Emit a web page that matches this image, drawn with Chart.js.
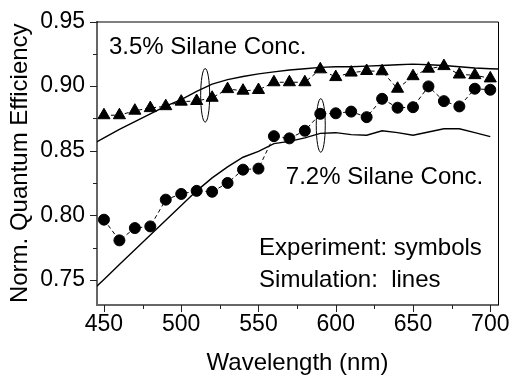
<!DOCTYPE html>
<html>
<head>
<meta charset="utf-8">
<script src="https://cdn.jsdelivr.net/npm/chart.js@4.4.1/dist/chart.umd.min.js"></script>
<style>
  html, body { margin: 0; padding: 0; background: #fff; }
</style>
</head>
<body>
<canvas id="chart" width="512" height="378"></canvas>
<script>
// measured points (every 10 nm)
const wavelengths = [450, 460, 470, 480, 490, 500, 510, 520, 530, 540, 550, 560, 570,
  580, 590, 600, 610, 620, 630, 640, 650, 660, 670, 680, 690, 700];
const silane35Exp = [0.8775, 0.8775, 0.881, 0.883, 0.8845, 0.888, 0.8885, 0.891, 0.8977, 0.8965,
  0.897, 0.903, 0.903, 0.903, 0.913, 0.907, 0.9105, 0.9117, 0.9115, 0.898, 0.9077, 0.9135,
  0.9155, 0.909, 0.9085, 0.906];
const silane72Exp = [0.7967, 0.7807, 0.7902, 0.7915, 0.8122, 0.8166, 0.819, 0.8183, 0.8251, 0.8354,
  0.8362, 0.8613, 0.8596, 0.8655, 0.8786, 0.879, 0.8803, 0.876, 0.8902, 0.8833, 0.8837, 0.8998,
  0.8884, 0.8843, 0.898, 0.8972];

// simulation curves
const sim35Wavelengths = [445, 450, 460, 470, 480, 490, 500, 510, 520, 530, 540, 550, 560, 570,
  580, 590, 600, 610, 620, 630, 640, 650, 660, 670, 680, 690, 700, 705];
const silane35Sim = [0.8567, 0.860, 0.8665, 0.8725, 0.8785, 0.8845, 0.8895, 0.896, 0.9015, 0.905,
  0.9075, 0.9095, 0.911, 0.9125, 0.9135, 0.9145, 0.915, 0.915, 0.9155, 0.916, 0.9165, 0.917,
  0.9165, 0.916, 0.915, 0.914, 0.9135, 0.9132];
const sim72Wavelengths = [445, 450, 460, 470, 480, 490, 500, 510, 520, 530, 540, 550, 560, 570,
  580, 590, 600, 610, 620, 630, 640, 650, 660, 670, 680, 690, 700];
const silane72Sim = [0.7448, 0.7505, 0.762, 0.7734, 0.7848, 0.7963, 0.8077, 0.819, 0.829, 0.8375,
  0.845, 0.8495, 0.8555, 0.8573, 0.860, 0.8635, 0.864, 0.8625, 0.862, 0.8655, 0.864, 0.862,
  0.8645, 0.867, 0.867, 0.864, 0.861];

// ellipse markers: centre wavelength, centre value
const ellipseNm = [515.5, 590.3];
const ellipseQE = [0.8929, 0.8696];

const xMajor = [450, 500, 550, 600, 650, 700];
const yMajor = [0.75, 0.80, 0.85, 0.90, 0.95];

const toXY = (xs, ys) => xs.map((v, i) => ({x: v, y: ys[i]}));
const FONT = "'Liberation Sans', Arial, sans-serif";

const decorations = {
  id: 'decorations',
  afterDraw(chart) {
    const {ctx, chartArea: a, scales: {x, y}} = chart;
    ctx.save();
    // top / right frame
    ctx.strokeStyle = '#000';
    ctx.lineWidth = 1;
    ctx.beginPath();
    ctx.moveTo(a.left, a.top + 0.5);
    ctx.lineTo(a.right + 0.5, a.top + 0.5);
    ctx.lineTo(a.right + 0.5, a.bottom);
    ctx.stroke();

    // tick marks, majors plus minors halfway
    ctx.strokeStyle = '#222';
    ctx.beginPath();
    for (let v = 450; v <= 700; v += 25) {
      const len = v % 50 === 0 ? 7 : 4;
      const px = Math.round(x.getPixelForValue(v)) + 0.5;
      ctx.moveTo(px, a.bottom);
      ctx.lineTo(px, a.bottom + len);
    }
    for (let i = 0; i <= 8; i++) {
      const v = 0.75 + i * 0.025;
      const len = i % 2 === 0 ? 7 : 4;
      const py = Math.round(y.getPixelForValue(v)) + 0.5;
      ctx.moveTo(a.left, py);
      ctx.lineTo(a.left - len, py);
    }
    ctx.stroke();

    // ellipses grouping each data set
    ctx.strokeStyle = '#000';
    ellipseNm.forEach((nm, i) => {
      const cx = x.getPixelForValue(nm);
      const cy = y.getPixelForValue(ellipseQE[i]);
      ctx.beginPath();
      ctx.ellipse(cx, cy, 4.5, 26.8, 0, 0, Math.PI * 2);
      ctx.stroke();
    });

    // text inside the plot
    ctx.fillStyle = '#000';
    ctx.font = '24px ' + FONT;
    ctx.textBaseline = 'alphabetic';
    ctx.textAlign = 'left';
    const put = (t, nm, q) => ctx.fillText(t, x.getPixelForValue(nm), y.getPixelForValue(q));
    put('3.5% Silane Conc.', 453.2, 0.9245);
    put('7.2% Silane Conc.', 567.7, 0.8245);
    put('Experiment: symbols', 550.4, 0.769);
    put('Simulation:  lines', 550.4, 0.7444);
    ctx.restore();
  }
};

new Chart(document.getElementById('chart'), {
  type: 'line',
  data: {
    datasets: [
      {
        data: toXY(wavelengths, silane35Exp),
        borderColor: '#000', borderWidth: 1, borderDash: [4, 3],
        pointStyle: 'triangle', pointRadius: 7, pointBackgroundColor: '#000',
        pointBorderColor: '#000', pointBorderWidth: 1
      },
      {
        data: toXY(wavelengths, silane72Exp),
        borderColor: '#000', borderWidth: 1, borderDash: [4, 3],
        pointStyle: 'circle', pointRadius: 5.5, pointBackgroundColor: '#000',
        pointBorderColor: '#000', pointBorderWidth: 1
      },
      {
        data: toXY(sim35Wavelengths, silane35Sim),
        borderColor: '#000', borderWidth: 1.4, pointRadius: 0
      },
      {
        data: toXY(sim72Wavelengths, silane72Sim),
        borderColor: '#000', borderWidth: 1.4, pointRadius: 0
      }
    ]
  },
  options: {
    responsive: false,
    animation: false,
    layout: {padding: {top: 21.5, right: 14, left: 0, bottom: 0}},
    plugins: {legend: {display: false}, tooltip: {enabled: false}},
    scales: {
      x: {
        type: 'linear', min: 445.5, max: 705,
        afterFit: s => { s.height = 73; },
        grid: {display: false},
        border: {display: true, color: '#666', width: 2},
        ticks: {
          includeBounds: false, stepSize: 50, padding: -2, color: '#000',
          font: {family: FONT, size: 23}, maxRotation: 0
        },
        afterBuildTicks: s => { s.ticks = xMajor.map(v => ({value: v})); },
        title: {display: true, text: 'Wavelength (nm)', color: '#000',
          font: {family: FONT, size: 24}, padding: {top: 0, bottom: 0.5}}
      },
      y: {
        min: 0.7307, max: 0.95,
        afterFit: s => { s.width = 97; },
        grid: {display: false},
        border: {display: true, color: '#666', width: 2},
        ticks: {
          includeBounds: false, padding: 4, color: '#000',
          font: {family: FONT, size: 23},
          callback: v => v.toFixed(2)
        },
        afterBuildTicks: s => { s.ticks = yMajor.map(v => ({value: v})); },
        title: {display: true, text: 'Norm. Quantum Efficiency', color: '#000',
          font: {family: FONT, size: 24}, padding: {top: 5.6, bottom: 0}}
      }
    }
  },
  plugins: [decorations]
});
</script>
</body>
</html>
